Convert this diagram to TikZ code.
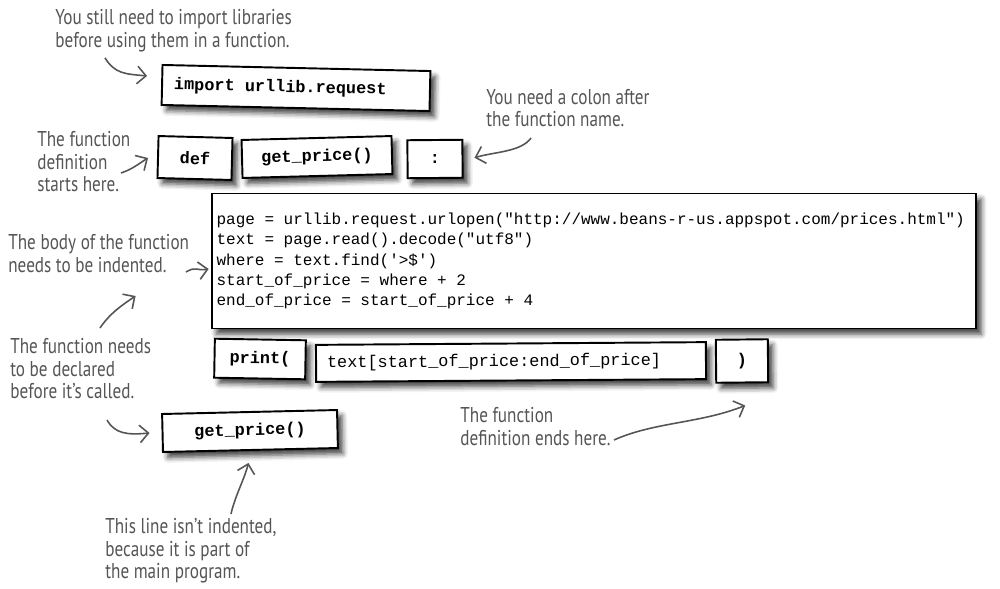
\documentclass[tikz,border=0pt]{standalone}
\usepackage{fontspec}
\setmonofont[WordSpace={1,0,0}]{Liberation Mono}
\newfontfamily\handfont[FakeStretch=0.8]{PT Sans}
\usetikzlibrary{positioning,arrows.meta,calc,shadows.blur}

\definecolor{inkgray}{HTML}{555555}

\begin{document}
\begin{tikzpicture}[x=0.02cm, y=-0.02cm,
  codebox/.style={draw, line width=1.1pt, fill=white, inner sep=0pt,
                  blur shadow={shadow xshift=2.8pt, shadow yshift=-3.2pt,
                               shadow blur radius=3pt, shadow opacity=75},
                  font=\ttfamily\bfseries\fontsize{9.6}{11.6}\selectfont,
                  execute at begin node={\spaceskip=0.6em\relax}},
  plaincode/.style={font=\ttfamily\fontsize{9.6}{11.6}\selectfont},
  note/.style={text=inkgray, font=\handfont\fontsize{12.2}{12.8}\selectfont,
               align=left, anchor=north west, inner sep=0pt},
  pointer/.style={draw=inkgray, line width=0.9pt,
                  -{Straight Barb[length=5pt,width=10pt]}}
]
\useasboundingbox (0,0) rectangle (1000,588);

% code pieces
\node[codebox, minimum height=0.8cm, text width=4.88cm, align=left,
      inner xsep=0.24cm, rotate=-1.3] (import) at (296,88) {import urllib.request};
\node[codebox, minimum width=1.48cm, minimum height=0.84cm, rotate=-1.5] (def) at (195,158) {def};
\node[codebox, minimum width=3cm, minimum height=0.76cm, rotate=1.5] (getp) at (317,157) {get\_price()};
\node[codebox, minimum width=1.1cm, minimum height=0.76cm, rotate=0.5] (colon) at (435,159) {:};

\node[codebox, font=\ttfamily\fontsize{9.1}{11.6}\selectfont, text width=15.1cm,
      align=left, inner xsep=0.1cm, minimum height=2.7cm] (body) at (594,261)
  {page = urllib.request.urlopen("http://www.beans-r-us.appspot.com/prices.html")\\
   text = page.read().decode("utf8")\\
   where = text.find('>\$')\\
   start\_of\_price = where + 2\\
   end\_of\_price = start\_of\_price + 4};

\node[codebox, minimum width=1.82cm, minimum height=0.78cm, rotate=-1] (print) at (260,359) {print(};
\node[codebox, plaincode, text width=7.36cm, align=left, inner xsep=0.22cm,
      minimum height=0.74cm, rotate=0.4] (slice) at (511,362) {text[start\_of\_price:end\_of\_price]};
\node[codebox, minimum width=1.04cm, minimum height=0.86cm, rotate=0.6] (paren) at (742,361) {)};

\node[codebox, minimum width=3.5cm, minimum height=0.76cm, rotate=1.3] (call) at (250,431) {get\_price()};

% notes
\node[note] (libnote) at (55,9) {You still need to import libraries\\before using them in a function.};
\node[note] (defnote) at (37,131) {The function\\definition\\starts here.};
\node[note] (colonnote) at (486,89) {You need a colon after\\the function name.};
\node[note] (bodynote) at (8,234) {The body of the function\\needs to be indented.};
\node[note] (declnote) at (10,338) {The function needs\\to be declared\\before it’s called.};
\node[note] (endnote) at (460,407) {The function\\definition ends here.};
\node[note] (mainnote) at (105,518) {This line isn’t indented,\\because it is part of\\the main program.};

% pointers
\draw[pointer] ($(libnote.south west)+(50,6)$) .. controls +(10,16) and +(-22,-2) .. ($(import.west)+(-14,-9)$);
\draw[pointer] ($(defnote.north west)+(84,42)$) .. controls +(12,-4) and +(-10,6) .. ($(def.west)+(-9,1)$);
\draw[pointer] ($(colonnote.north west)+(45,49)$) .. controls +(-10,14) and +(20,-6) .. ($(colon.east)+(11,-1)$);
\draw[pointer] ($(bodynote.north west)+(178,38)$) .. controls +(10,-6) and +(-12,2) .. ($(body.west)+(-2,8)$);
\draw[pointer] ($(declnote.north west)+(90,-10)$) .. controls +(10,-15) and +(-12,8) .. ($(body.west)+(-75,35)$);
\draw[pointer] ($(declnote.north west)+(97,82)$) .. controls +(8,14) and +(-22,2) .. ($(call.west)+(-12,0)$);
\draw[pointer] ($(endnote.north west)+(154,33)$) .. controls +(40,-18) and +(-45,18) .. ($(paren.south)+(3,22)$);
\draw[pointer] ($(mainnote.north west)+(126,-4)$) .. controls +(4,-18) and +(-4,16) .. ($(call.south)+(-2,12)$);
\end{tikzpicture}
\end{document}
